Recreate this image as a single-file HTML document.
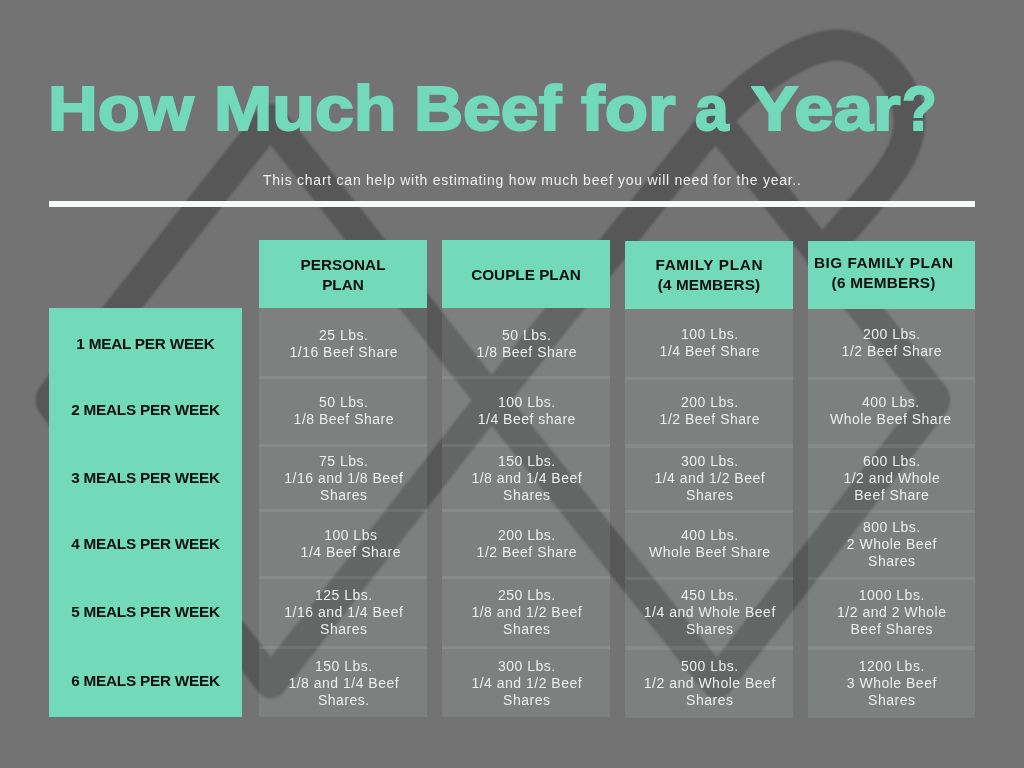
<!DOCTYPE html>
<html><head><meta charset="utf-8"><title>How Much Beef for a Year?</title>
<style>
html,body{margin:0;padding:0}
body{width:1024px;height:768px;background:#737373;position:relative;overflow:hidden;font-family:"Liberation Sans",sans-serif}
#w{position:absolute;left:0;top:0;width:1024px;height:768px;will-change:transform}
#wm{position:absolute;left:0;top:0;filter:blur(1px)}
.a{position:absolute}
.tw{top:67.5px;font-weight:bold;font-size:62.5px;line-height:80px;color:#72d9b9;-webkit-text-stroke:2px #72d9b9;white-space:nowrap;transform-origin:0 0}
#sub{left:263px;top:171px;font-size:14px;line-height:18px;color:#f0f0f0;white-space:nowrap;letter-spacing:.75px}
#rule{left:49.4px;top:201.1px;width:925.6px;height:5.5px;background:#f6fbfa}
.teal{background:#72d9b9}
.hd{width:168px;text-align:center;font-weight:bold;font-size:15.3px;line-height:20.4px;color:#0b100f;letter-spacing:0;white-space:nowrap}
.c{background:rgba(240,255,250,.088);width:168px}
.t{width:208px;text-align:center;color:#eeeeee;font-size:14px;line-height:17px;letter-spacing:.5px;white-space:nowrap}
.rl{left:49px;width:193px;text-align:center;font-weight:bold;font-size:15.3px;color:#0b100f;letter-spacing:-.22px;line-height:20px;white-space:nowrap}
</style></head><body><div id="w">
<svg id="wm" width="1024" height="768" viewBox="0 0 1024 768">
<path d="M821 256 L875 192.5 C890.5 173 909.5 150 909.5 122 C909.5 85 873 45 838 45 C798 45 742 90.5 715.5 120 L491.5 400 L271 682.5 L53.2 404.7 Q49.5 400 53.2 395.3 L270.5 119.5 L491.5 400 L717 683 L932.6 404.7 Q936.3 400 932.6 395.3 L715.5 120" fill="none" stroke="#575757" stroke-width="31.5" stroke-linejoin="round" stroke-linecap="round"/>
</svg>
<div class="a tw" style="left:48.3px;transform:scaleX(1.103)">How</div>
<div class="a tw" style="left:214.2px;transform:scaleX(1.118)">Much</div>
<div class="a tw" style="left:414.1px;transform:scaleX(1.087)">Beef</div>
<div class="a tw" style="left:580.7px;transform:scaleX(1.136)">for</div>
<div class="a tw" style="left:695.4px;transform:scaleX(0.969)">a</div>
<div class="a tw" style="left:751.2px;transform:scaleX(1.132)">Year</div>
<div class="a tw" style="left:902.1px;transform:scaleX(0.909)">?</div>
<div id="sub" class="a">This chart can help with estimating how much beef you will need for the year..</div>
<div id="rule" class="a"></div>
<div class="a teal" style="left:49px;top:308px;width:192.7px;height:409.2px"></div>
<div class="a rl" style="top:334px">1 MEAL PER WEEK</div>
<div class="a rl" style="top:400px">2 MEALS PER WEEK</div>
<div class="a rl" style="top:468px">3 MEALS PER WEEK</div>
<div class="a rl" style="top:534px">4 MEALS PER WEEK</div>
<div class="a rl" style="top:602px">5 MEALS PER WEEK</div>
<div class="a rl" style="top:671px">6 MEALS PER WEEK</div>
<div class="a teal" style="left:259px;top:240px;width:168px;height:68.2px"></div>
<div class="a hd" style="left:259px;top:255px">PERSONAL<br>PLAN</div>
<div class="a c" style="left:259px;top:308.0px;width:168px;height:71.2px"></div>
<div class="a c" style="left:259px;top:376.0px;width:168px;height:70.8px"></div>
<div class="a c" style="left:259px;top:443.6px;width:168px;height:68.6px"></div>
<div class="a c" style="left:259px;top:509.0px;width:168px;height:70.2px"></div>
<div class="a c" style="left:259px;top:576.0px;width:168px;height:72.9px"></div>
<div class="a c" style="left:259px;top:645.6px;width:168px;height:71.6px"></div>
<div class="a teal" style="left:442px;top:240px;width:168px;height:68.2px"></div>
<div class="a hd" style="left:442px;top:265px">COUPLE PLAN</div>
<div class="a c" style="left:442px;top:308.0px;width:168px;height:71.2px"></div>
<div class="a c" style="left:442px;top:376.0px;width:168px;height:70.8px"></div>
<div class="a c" style="left:442px;top:443.6px;width:168px;height:68.6px"></div>
<div class="a c" style="left:442px;top:509.0px;width:168px;height:70.2px"></div>
<div class="a c" style="left:442px;top:576.0px;width:168px;height:72.9px"></div>
<div class="a c" style="left:442px;top:645.6px;width:168px;height:71.6px"></div>
<div class="a teal" style="left:625px;top:241.1px;width:168px;height:67.6px"></div>
<div class="a hd" style="left:625px;top:255px"><span style="letter-spacing:.67px;margin-left:.67px">FAMILY PLAN</span><br><span style="letter-spacing:.12px">(4 MEMBERS)</span></div>
<div class="a c" style="left:625px;top:308.8px;width:168px;height:71.2px"></div>
<div class="a c" style="left:625px;top:376.8px;width:168px;height:70.8px"></div>
<div class="a c" style="left:625px;top:444.4px;width:168px;height:68.6px"></div>
<div class="a c" style="left:625px;top:509.8px;width:168px;height:70.2px"></div>
<div class="a c" style="left:625px;top:576.8px;width:168px;height:72.9px"></div>
<div class="a c" style="left:625px;top:646.4px;width:168px;height:71.6px"></div>
<div class="a teal" style="left:808px;top:240.9px;width:167.4px;height:67.9px"></div>
<div class="a hd" style="left:799.5px;top:253px"><span style="letter-spacing:.52px;margin-left:.52px">BIG FAMILY PLAN</span><br><span style="letter-spacing:.27px;margin-left:.27px">(6 MEMBERS)</span></div>
<div class="a c" style="left:808px;top:308.8px;width:167.4px;height:71.2px"></div>
<div class="a c" style="left:808px;top:376.8px;width:167.4px;height:70.8px"></div>
<div class="a c" style="left:808px;top:444.4px;width:167.4px;height:68.6px"></div>
<div class="a c" style="left:808px;top:509.8px;width:167.4px;height:70.2px"></div>
<div class="a c" style="left:808px;top:576.8px;width:167.4px;height:72.9px"></div>
<div class="a c" style="left:808px;top:646.4px;width:167.4px;height:71.6px"></div>
<div class="a t" style="left:239.8px;top:327px">25 Lbs.<br>1/16 Beef Share</div>
<div class="a t" style="left:422.8px;top:327px">50 Lbs.<br>1/8 Beef Share</div>
<div class="a t" style="left:605.8px;top:326px">100 Lbs.<br>1/4 Beef Share</div>
<div class="a t" style="left:787.8px;top:326px">200 Lbs.<br>1/2 Beef Share</div>
<div class="a t" style="left:239.8px;top:394px">50 Lbs.<br>1/8 Beef Share</div>
<div class="a t" style="left:422.8px;top:394px">100 Lbs.<br>1/4 Beef share</div>
<div class="a t" style="left:605.8px;top:394px">200 Lbs.<br>1/2 Beef Share</div>
<div class="a t" style="left:786.8px;top:394px">400 Lbs.<br>Whole Beef Share</div>
<div class="a t" style="left:239.8px;top:453px">75 Lbs.<br>1/16 and 1/8 Beef<br>Shares</div>
<div class="a t" style="left:422.8px;top:453px">150 Lbs.<br>1/8 and 1/4 Beef<br>Shares</div>
<div class="a t" style="left:605.8px;top:453px">300 Lbs.<br>1/4 and 1/2 Beef<br>Shares</div>
<div class="a t" style="left:787.8px;top:453px">600 Lbs.<br>1/2 and Whole<br>Beef Share</div>
<div class="a t" style="left:246.8px;top:527px">100 Lbs<br>1/4 Beef Share</div>
<div class="a t" style="left:422.8px;top:527px">200 Lbs.<br>1/2 Beef Share</div>
<div class="a t" style="left:605.8px;top:527px">400 Lbs.<br>Whole Beef Share</div>
<div class="a t" style="left:787.8px;top:519px">800 Lbs.<br>2 Whole Beef<br>Shares</div>
<div class="a t" style="left:239.8px;top:587px">125 Lbs.<br>1/16 and 1/4 Beef<br>Shares</div>
<div class="a t" style="left:422.8px;top:587px">250 Lbs.<br>1/8 and 1/2 Beef<br>Shares</div>
<div class="a t" style="left:605.8px;top:587px">450 Lbs.<br>1/4 and Whole Beef<br>Shares</div>
<div class="a t" style="left:787.8px;top:587px">1000 Lbs.<br>1/2 and 2 Whole<br>Beef Shares</div>
<div class="a t" style="left:239.8px;top:658px">150 Lbs.<br>1/8 and 1/4 Beef<br>Shares.</div>
<div class="a t" style="left:422.8px;top:658px">300 Lbs.<br>1/4 and 1/2 Beef<br>Shares</div>
<div class="a t" style="left:605.8px;top:658px">500 Lbs.<br>1/2 and Whole Beef<br>Shares</div>
<div class="a t" style="left:787.8px;top:658px">1200 Lbs.<br>3 Whole Beef<br>Shares</div>
</div></body></html>
